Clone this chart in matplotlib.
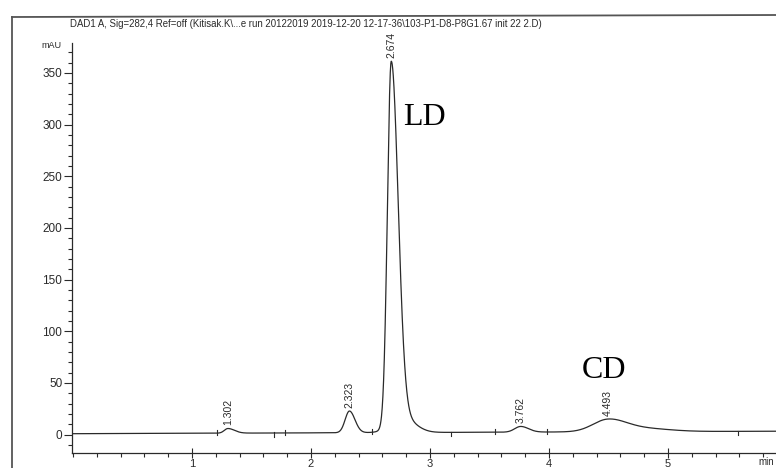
import numpy as np
import matplotlib
matplotlib.use("Agg")
import matplotlib.pyplot as plt
from matplotlib.ticker import MultipleLocator, FixedLocator
from matplotlib.lines import Line2D

# ---- chromatogram data (retention time in min, signal in mAU) ----
peak_times = [1.302, 2.323, 2.674, 3.762, 4.493]
peak_labels = ["1.302", "2.323", "2.674", "3.762", "4.493"]
peak_heights = [4.5, 21.0, 352.0, 5.5, 11.0]
peak_sigma_left = [0.030, 0.036, 0.032, 0.050, 0.125]
peak_sigma_right = [0.055, 0.046, 0.058, 0.065, 0.150]

# trailing components of the tailing peaks
tail_times = [2.78, 4.78]
tail_heights = [13.0, 3.2]
tail_sigmas = [0.10, 0.22]

# baseline drift at run start and end
baseline_start = 0.8
baseline_end = 3.2

# integration event marks
marks_up = [1.21, 1.78, 2.51, 3.55, 3.98]
marks_down = [1.69, 3.18, 5.59]

title = ("DAD1 A, Sig=282,4 Ref=off (Kitisak.K\\...e run 20122019 "
         "2019-12-20 12-17-36\\103-P1-D8-P8G1.67 init 22 2.D)")

t_start, t_end = -0.008, 5.907
y_low, y_high = -17.4, 379.0

# ---- build the trace ----
t = np.linspace(0.0, t_end, 4000)


def baseline(x):
    return baseline_start + (baseline_end - baseline_start) * (x - t[0]) / (t_end - t[0])


def asym_gauss(x, mu, h, sl, sr):
    s = np.where(x < mu, sl, sr)
    return h * np.exp(-0.5 * ((x - mu) / s) ** 2)


def signal(x):
    y = baseline(x)
    for mu, h, sl, sr in zip(peak_times, peak_heights, peak_sigma_left, peak_sigma_right):
        y = y + asym_gauss(x, mu, h, sl, sr)
    for mu, h, s in zip(tail_times, tail_heights, tail_sigmas):
        y = y + h * np.exp(-0.5 * ((x - mu) / s) ** 2)
    return y


y = signal(t)

plt.rcParams["font.family"] = ["Liberation Sans", "DejaVu Sans"]
ink = "#2a2a2a"

fig = plt.figure(figsize=(7.76, 4.68), dpi=100)
W, H = 776, 468
ax = fig.add_axes([72 / W, (H - 452.5) / H, 1 - 72 / W, (452.5 - 43) / H])

ax.plot(t, y, color=ink, lw=0.9)

ax.set_xlim(t_start, t_end)
ax.set_ylim(y_low, y_high)

for side in ("top", "right"):
    ax.spines[side].set_visible(False)
for side in ("left", "bottom"):
    ax.spines[side].set_color(ink)
    ax.spines[side].set_linewidth(0.9)

ax.xaxis.set_major_locator(FixedLocator([1, 2, 3, 4, 5]))
ax.xaxis.set_minor_locator(MultipleLocator(0.2))
ax.yaxis.set_major_locator(MultipleLocator(50))
ax.yaxis.set_minor_locator(MultipleLocator(10))
ax.set_yticks(np.arange(0, 351, 50))

ax.tick_params(axis="x", which="major", direction="inout", length=7, width=0.8,
               color=ink, labelsize=8, labelcolor=ink, pad=1)
ax.tick_params(axis="x", which="minor", direction="out", length=3, width=0.8, color=ink)
ax.tick_params(axis="y", which="major", direction="out", length=6, width=0.8,
               color=ink, labelsize=8.5, labelcolor=ink, pad=1)
ax.tick_params(axis="y", which="minor", direction="out", length=3, width=0.8, color=ink)

# peak retention time labels
for mu, lab in zip(peak_times, peak_labels):
    top = signal(np.array([mu]))[0]
    ax.annotate(lab, (mu, top), xytext=(0, 2.5), textcoords="offset points",
                rotation=90, ha="center", va="bottom", fontsize=7.5, color=ink)

# integration event marks
for m in marks_up:
    v = signal(np.array([m]))[0]
    ax.plot([m, m], [v - 1.5, v + 3.0], color=ink, lw=0.8)
for m in marks_down:
    v = signal(np.array([m]))[0]
    ax.plot([m, m], [v - 3.5, v + 0.5], color=ink, lw=0.8)

# compound names
ax.text(2.95, 307, "LD", family="Liberation Serif", fontsize=23, color="black",
        ha="center", va="center")
ax.text(4.46, 62, "CD", family="Liberation Serif", fontsize=23, color="black",
        ha="center", va="center")

# header, unit labels, page frame
fig.text(70 / W, 1 - 24 / H, title, fontsize=6.9, color=ink, ha="left", va="center")
fig.text(62 / W, 1 - 45 / H, "mAU", fontsize=6.5, color=ink, ha="right", va="center")
fig.text(774 / W, 1 - 462 / H, "min", fontsize=7, color=ink, ha="right", va="center")
fig.add_artist(Line2D([12 / W, 12 / W], [0, 1 - 17 / H], color="#555555", lw=1.3))
fig.add_artist(Line2D([12 / W, 1], [1 - 17 / H, 1 - 15 / H], color="#555555", lw=1.3))

fig.savefig("out.png", dpi=100)
